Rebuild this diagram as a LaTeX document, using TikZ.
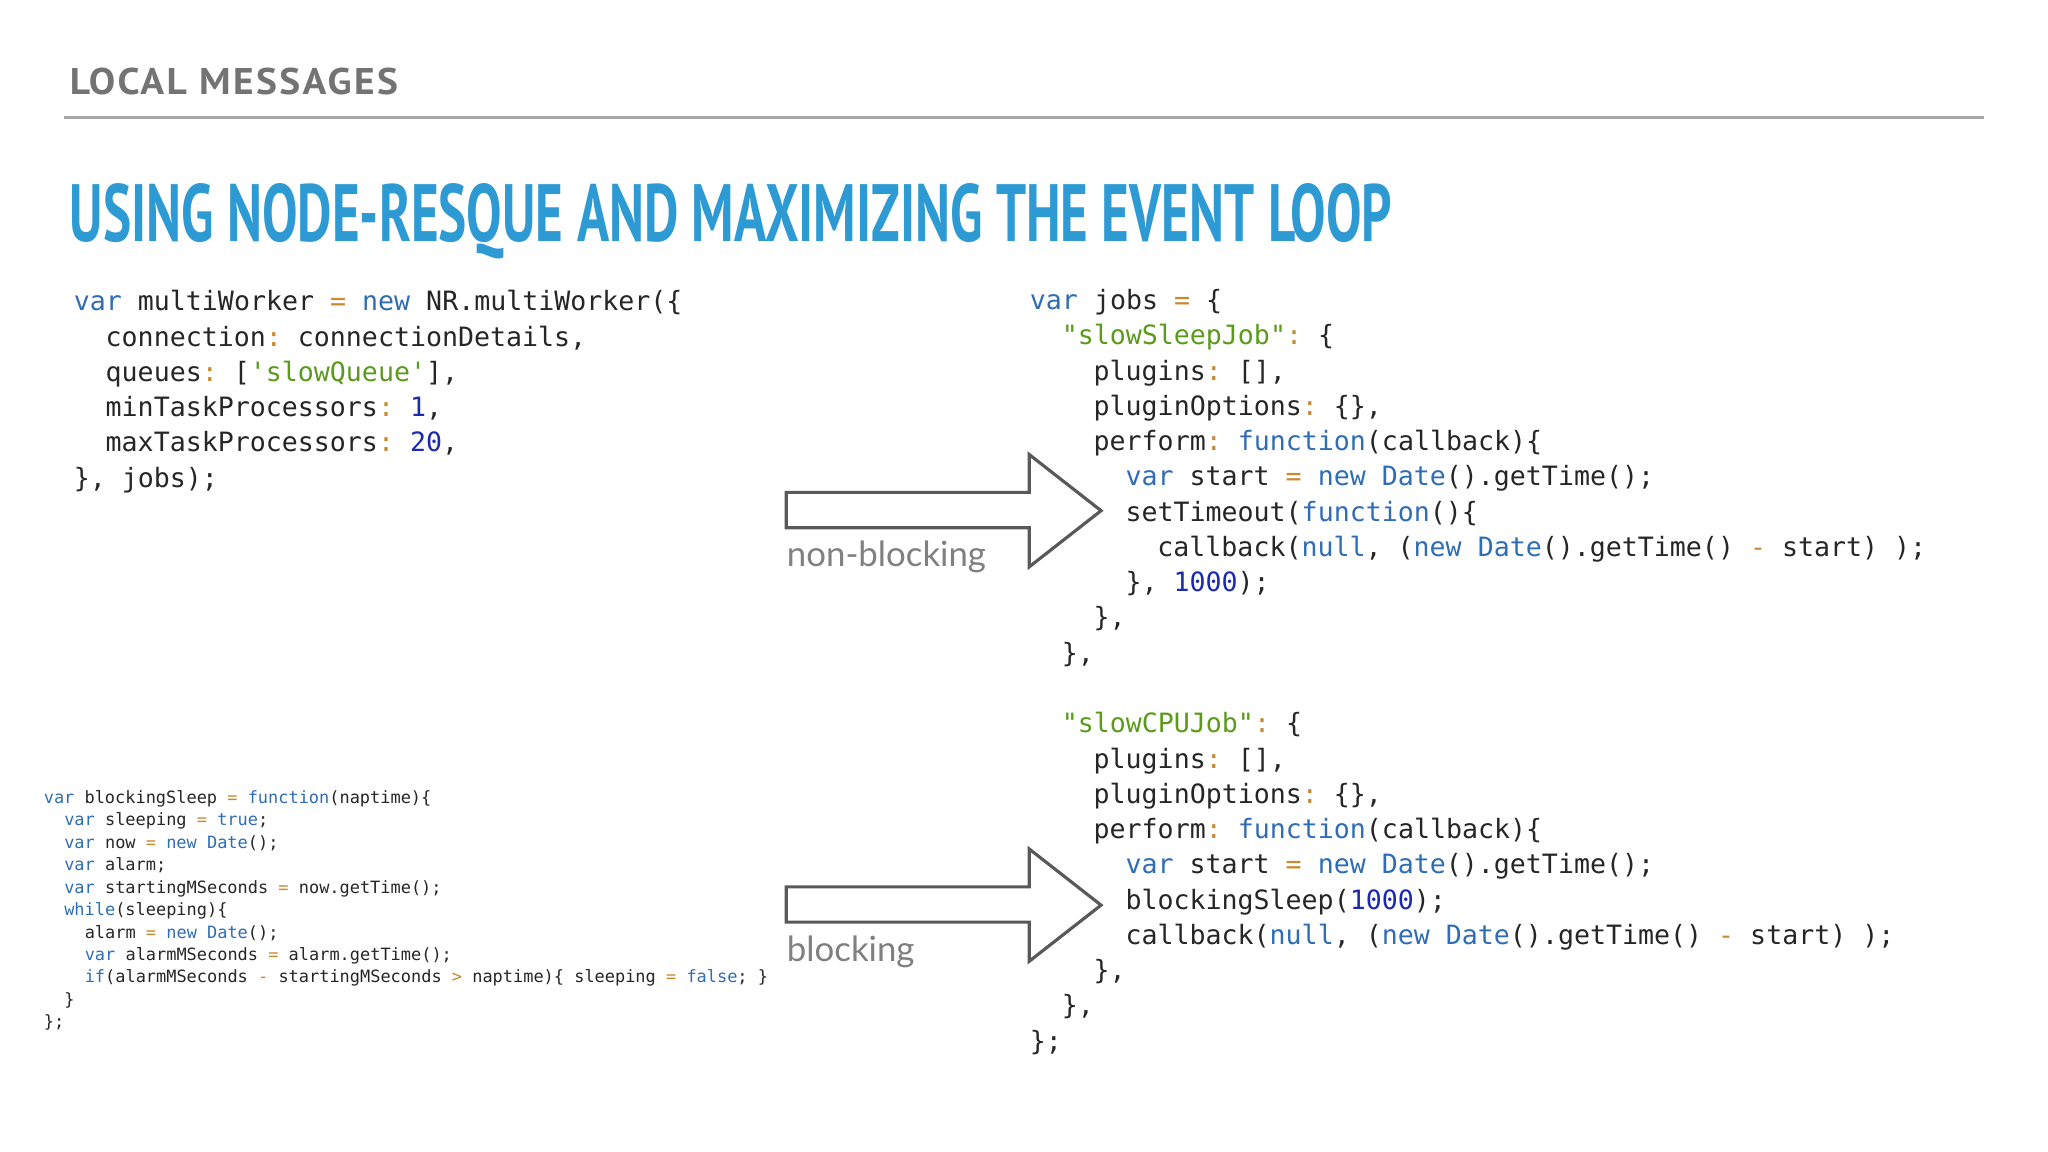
\documentclass[tikz,border=0pt]{standalone}
\usepackage{fontspec}
\setmainfont{Lato}
\setmonofont{DejaVu Sans Mono}
\newfontfamily\titlefont{PT Sans}
\usepackage{graphicx}
\definecolor{kw}{HTML}{2F6DB5}
\definecolor{sg}{HTML}{5B9A1B}
\definecolor{nb}{HTML}{1B2AAE}
\definecolor{op}{HTML}{C8892F}
\definecolor{ttl}{HTML}{2E9AD4}
\newcommand\kwd[1]{\textcolor{kw}{#1}}
\newcommand\cstr[1]{\textcolor{sg}{#1}}
\newcommand\num[1]{\textcolor{nb}{#1}}
\newcommand\opr[1]{\textcolor{op}{#1}}
\begin{document}
\begin{tikzpicture}[x=0.01306cm,y=-0.01306cm,
  code/.style={anchor=base west,inner sep=0pt,font=\ttfamily\fontsize{7.57pt}{10pt}\selectfont,text=black!85},
  small/.style={anchor=base west,inner sep=0pt,font=\ttfamily\fontsize{4.82pt}{6pt}\selectfont,text=black!85},
  arr/.style={draw=black!65,line width=0.9pt,fill=white,line join=miter},
  lbl/.style={anchor=base west,inner sep=0pt,font=\fontsize{9.9pt}{12pt}\selectfont,text=black!50}]
\useasboundingbox (0,0) rectangle (1568,882);
\fill[white] (0,0) rectangle (1568,882);
\node[anchor=base west,inner sep=0pt,text=black!55] (hdr) at (53,72) {\resizebox{3.28cm}{0.265cm}{\titlefont\bfseries\addfontfeatures{LetterSpace=6}LOCAL MESSAGES}};
\draw[black!35,line width=0.8pt] (49,90) -- (1519,90);
\node[anchor=base west,inner sep=0pt,text=ttl] (title) at (53,185) {\resizebox{13.22cm}{0.58cm}{\titlefont\bfseries USING NODE-RESQUE AND MAXIMIZING THE EVENT LOOP}};
% top-left code
\def\cw{12.2}
\foreach \i/\ind/\t in {
 0/0/{\kwd{var} multiWorker \opr{=} \kwd{new} NR.multiWorker(\{},
 1/2/{connection\opr{:} connectionDetails,},
 2/2/{queues\opr{:} [\cstr{'slowQueue'}],},
 3/2/{minTaskProcessors\opr{:} \num{1},},
 4/2/{maxTaskProcessors\opr{:} \num{20},},
 5/0/{\}, jobs);}}
 \node[code] (tl\i) at (56+\ind*\cw, 238+27*\i) {\t};
% right code
\foreach \i/\ind/\t in {
 0/0/{\kwd{var} jobs \opr{=} \{},
 1/2/{\cstr{"slowSleepJob"}\opr{:} \{},
 2/4/{plugins\opr{:} [],},
 3/4/{pluginOptions\opr{:} \{\},},
 4/4/{perform\opr{:} \kwd{function}(callback)\{},
 5/6/{\kwd{var} start \opr{=} \kwd{new} \kwd{Date}().getTime();},
 6/6/{setTimeout(\kwd{function}()\{},
 7/8/{callback(\kwd{null}, (\kwd{new} \kwd{Date}().getTime() \opr{-} start) );},
 8/6/{\}, \num{1000});},
 9/4/{\},},
 10/2/{\},},
 12/2/{\cstr{"slowCPUJob"}\opr{:} \{},
 13/4/{plugins\opr{:} [],},
 14/4/{pluginOptions\opr{:} \{\},},
 15/4/{perform\opr{:} \kwd{function}(callback)\{},
 16/6/{\kwd{var} start \opr{=} \kwd{new} \kwd{Date}().getTime();},
 17/6/{blockingSleep(\num{1000});},
 18/6/{callback(\kwd{null}, (\kwd{new} \kwd{Date}().getTime() \opr{-} start) );},
 19/4/{\},},
 20/2/{\},},
 21/0/{\};}}
 \node[code] (r\i) at (788+\ind*\cw, 237+27*\i) {\t};
% small code
\def\sw{7.84}
\foreach \i/\ind/\t in {
 0/0/{\kwd{var} blockingSleep \opr{=} \kwd{function}(naptime)\{},
 1/2/{\kwd{var} sleeping \opr{=} \kwd{true};},
 2/2/{\kwd{var} now \opr{=} \kwd{new} \kwd{Date}();},
 3/2/{\kwd{var} alarm;},
 4/2/{\kwd{var} startingMSeconds \opr{=} now.getTime();},
 5/2/{\kwd{while}(sleeping)\{},
 6/4/{alarm \opr{=} \kwd{new} \kwd{Date}();},
 7/4/{\kwd{var} alarmMSeconds \opr{=} alarm.getTime();},
 8/4/{\kwd{if}(alarmMSeconds \opr{-} startingMSeconds \opr{>} naptime)\{ sleeping \opr{=} \kwd{false}; \}},
 9/2/{\}},
 10/0/{\};}}
 \node[small] (s\i) at (33+\ind*\sw, 615+17.2*\i) {\t};
% arrows
\draw[arr] (602,377) -- (788,377) -- (788,348) -- (843,391) -- (788,434) -- (788,404) -- (602,404) -- cycle;
\node[lbl] (nb) at (602,434) {non-blocking};
\draw[arr] (602,679) -- (788,679) -- (788,650) -- (843,693) -- (788,736) -- (788,706) -- (602,706) -- cycle;
\node[lbl] (bl) at (602,736) {blocking};
\end{tikzpicture}
\end{document}
